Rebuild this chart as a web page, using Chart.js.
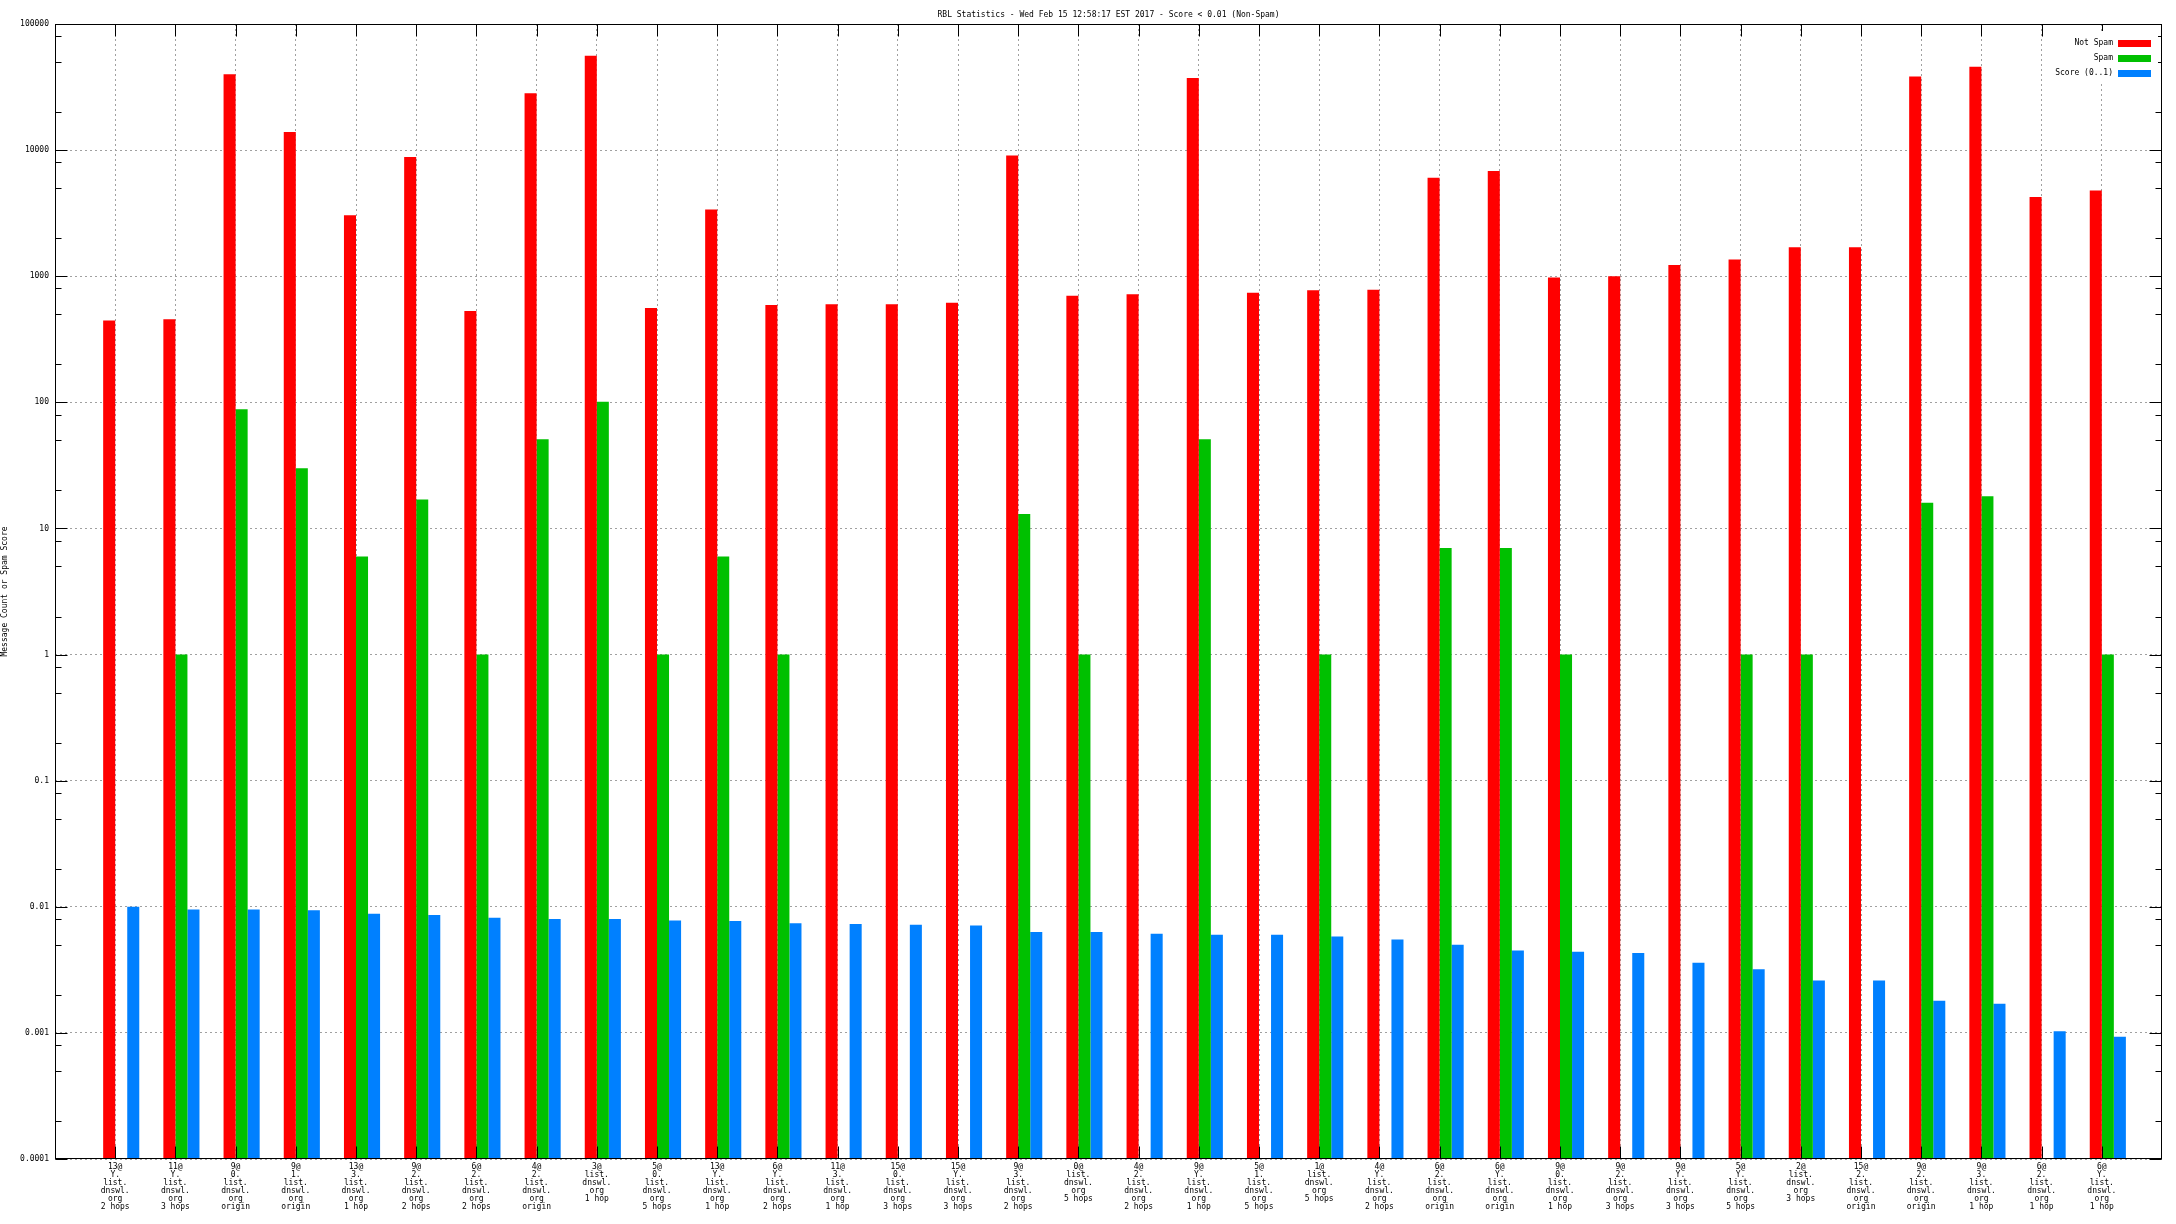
<!DOCTYPE html>
<html>
<head>
<meta charset="utf-8">
<script src="https://cdn.jsdelivr.net/npm/chart.js@4"></script>
<style>
  body { margin: 0; background: #fff; }
</style>
</head>
<body>
<canvas id="myChart" width="2176" height="1224"></canvas>
<script>
var chartTitle = "RBL Statistics - Wed Feb 15 12:58:17 EST 2017 - Score < 0.01 (Non-Spam)";
var yAxisTitle = "Message Count or Spam Score";

var categories = [
  "13@Y.list.dnswl.org 2 hops", "11@Y.list.dnswl.org 3 hops", "9@0.list.dnswl.org origin",
  "9@1.list.dnswl.org origin", "13@3.list.dnswl.org 1 hop", "9@2.list.dnswl.org 2 hops",
  "6@2.list.dnswl.org 2 hops", "4@2.list.dnswl.org origin", "3@list.dnswl.org 1 hop",
  "5@0.list.dnswl.org 5 hops", "13@Y.list.dnswl.org 1 hop", "6@Y.list.dnswl.org 2 hops",
  "11@3.list.dnswl.org 1 hop", "15@0.list.dnswl.org 3 hops", "15@Y.list.dnswl.org 3 hops",
  "9@3.list.dnswl.org 2 hops", "0@list.dnswl.org 5 hops", "4@2.list.dnswl.org 2 hops",
  "9@Y.list.dnswl.org 1 hop", "5@1.list.dnswl.org 5 hops", "1@list.dnswl.org 5 hops",
  "4@Y.list.dnswl.org 2 hops", "6@2.list.dnswl.org origin", "6@Y.list.dnswl.org origin",
  "9@0.list.dnswl.org 1 hop", "9@2.list.dnswl.org 3 hops", "9@Y.list.dnswl.org 3 hops",
  "5@Y.list.dnswl.org 5 hops", "2@list.dnswl.org 3 hops", "15@2.list.dnswl.org origin",
  "9@2.list.dnswl.org origin", "9@3.list.dnswl.org 1 hop", "6@2.list.dnswl.org 1 hop",
  "6@Y.list.dnswl.org 1 hop"
];

var notSpam = [445, 455, 40000, 13900, 3050, 8830, 530, 28200, 56000, 560,
  3380, 590, 600, 600, 615, 9060, 700, 720, 37300, 740,
  775, 780, 6030, 6840, 975, 1000, 1225, 1355, 1700, 1700,
  38300, 45800, 4240, 4790];

var spam = [null, 1, 88, 30, 6, 17, 1, 51, 101, 1,
  6, 1, null, null, null, 13, 1, null, 51, null,
  1, null, 7, 7, 1, null, null, 1, 1, null,
  16, 18, null, 1];

var score = [0.0100, 0.0095, 0.0095, 0.0094, 0.0088, 0.0086, 0.0082, 0.0080, 0.0080, 0.0078,
  0.0077, 0.0074, 0.0073, 0.0072, 0.0071, 0.0063, 0.0063, 0.0061, 0.0060, 0.0060,
  0.0058, 0.0055, 0.0050, 0.0045, 0.0044, 0.0043, 0.0036, 0.0032, 0.0026, 0.0026,
  0.0018, 0.0017, 0.00103, 0.00093];

var seriesNames = ["Not Spam", "Spam", "Score (0..1)"];
var seriesColors = ["#ff0000", "#00c000", "#0080ff"];

var yMajor = [100000, 10000, 1000, 100, 10, 1, 0.1, 0.01, 0.001, 0.0001];
var yTickLabels = ["100000", "10000", "1000", "100", "10", "1", "0.1", "0.01", "0.001", "0.0001"];

Chart.defaults.font.family = "'DejaVu Sans Mono', monospace";
Chart.defaults.font.size = 8;
Chart.defaults.color = "#000";

// gnuplot puts the cluster a bit right of the tick
var groupShift = 0.1;

function toPoints(arr) {
  var out = [];
  for (var i = 0; i < arr.length; i++) {
    out.push({ x: i + groupShift, y: arr[i] });
  }
  return out;
}

function splitLabel(s) {
  return s.replace("@", "@\n").replace(/\./g, ".\n").replace(" ", "\n").split("\n");
}

function isMajor(v) {
  for (var i = 0; i < yMajor.length; i++) {
    if (Math.abs(Math.log10(v) - Math.log10(yMajor[i])) < 1e-6) return i;
  }
  return -1;
}

// frame, inward ticks, title and key like gnuplot
var gnuplotBits = {
  id: "gnuplotBits",
  afterDraw: function (chart) {
    var ctx = chart.ctx;
    var a = chart.chartArea;
    var xs = chart.scales.x;
    var ys = chart.scales.y;
    var L = Math.round(a.left) + 0.5, R = Math.round(a.right) - 0.5;
    var T = Math.round(a.top) + 0.5, B = Math.round(a.bottom) - 0.5;
    ctx.save();
    ctx.strokeStyle = "#000";
    ctx.lineWidth = 1;
    ctx.beginPath();
    ys.ticks.forEach(function (t) {
      var y = Math.round(ys.getPixelForValue(t.value)) + 0.5;
      var len = isMajor(t.value) >= 0 ? 12 : 6;
      ctx.moveTo(L, y); ctx.lineTo(L + len, y);
      ctx.moveTo(R, y); ctx.lineTo(R - len, y);
    });
    xs.ticks.forEach(function (t) {
      var x = Math.round(xs.getPixelForValue(t.value)) + 0.5;
      ctx.moveTo(x, T); ctx.lineTo(x, T + 12);
      ctx.moveTo(x, B); ctx.lineTo(x, B - 12);
    });
    ctx.stroke();
    ctx.strokeRect(L, T, R - L, B - T);

    ctx.font = "8px 'DejaVu Sans Mono', monospace";
    ctx.fillStyle = "#000";
    ctx.textAlign = "center";
    ctx.textBaseline = "middle";
    ctx.fillText(chartTitle, (a.left + a.right) / 2, 15);

    // key
    ctx.fillStyle = "#fff";
    ctx.fillRect(2046, 31, 112, 50);
    ctx.textAlign = "right";
    for (var i = 0; i < chart.data.datasets.length; i++) {
      var ds = chart.data.datasets[i];
      var cy = 43 + i * 15;
      ctx.fillStyle = "#000";
      ctx.fillText(ds.label, 2113, cy);
      ctx.fillStyle = ds.backgroundColor;
      ctx.fillRect(2118, cy - 3, 33, 7);
    }
    ctx.restore();
  }
};

var datasets = [];
[notSpam, spam, score].forEach(function (arr, k) {
  datasets.push({
    label: seriesNames[k],
    data: toPoints(arr),
    backgroundColor: seriesColors[k],
    borderWidth: 0,
    categoryPercentage: 0.6,
    barPercentage: 1.0
  });
});

new Chart("myChart", {
  type: "bar",
  data: { datasets: datasets },
  plugins: [gnuplotBits],
  options: {
    responsive: false,
    animation: false,
    devicePixelRatio: 1,
    layout: { padding: { top: 24, right: 14, bottom: 0, left: 0 } },
    plugins: {
      legend: { display: false },
      title: { display: false },
      tooltip: { enabled: false }
    },
    scales: {
      x: {
        type: "linear",
        min: -1,
        max: 34,
        offset: false,
        afterBuildTicks: function (scale) {
          scale.ticks = categories.map(function (c, i) { return { value: i }; });
        },
        afterFit: function (scale) {
          scale.height = 65;
          scale.paddingLeft = 0;
          scale.paddingRight = 0;
        },
        grid: { color: "#a0a0a0", lineWidth: 1, drawTicks: false, offset: false },
        border: { display: false, dash: [2, 3] },
        ticks: {
          autoSkip: false,
          maxRotation: 0,
          minRotation: 0,
          padding: 4,
          font: { size: 8, lineHeight: 1 },
          callback: function (v) {
            return categories[v] ? splitLabel(categories[v]) : "";
          }
        }
      },
      y: {
        type: "logarithmic",
        min: 0.0001,
        max: 100000,
        afterBuildTicks: function (scale) {
          var t = [];
          for (var e = -4; e <= 5; e++) {
            t.push({ value: Math.pow(10, e) });
            if (e < 5) {
              [2, 5, 8].forEach(function (m) { t.push({ value: m * Math.pow(10, e) }); });
            }
          }
          scale.ticks = t;
        },
        afterFit: function (scale) {
          scale.width = 55;
          scale.paddingTop = 0;
          scale.paddingBottom = 0;
        },
        grid: {
          drawTicks: false,
          lineWidth: 1,
          color: function (c) {
            return c.tick && isMajor(c.tick.value) >= 0 ? "#a0a0a0" : "rgba(0,0,0,0)";
          }
        },
        border: { display: false, dash: [2, 3] },
        title: {
          display: true,
          text: yAxisTitle,
          padding: 0,
          font: { size: 8 }
        },
        ticks: {
          autoSkip: false,
          padding: 6,
          callback: function (v) {
            var k = isMajor(v);
            return k >= 0 ? yTickLabels[k] : "";
          }
        }
      }
    }
  }
});
</script>
</body>
</html>
